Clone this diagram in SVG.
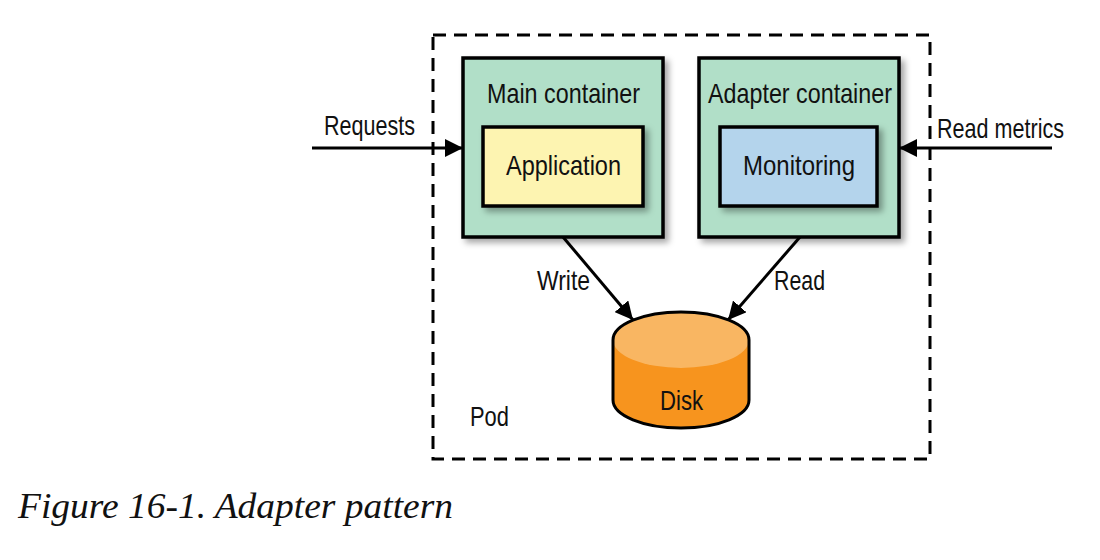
<svg xmlns="http://www.w3.org/2000/svg" width="1100" height="560" viewBox="0 0 1100 560">
  <style>
    .lbl { font-family: "Liberation Sans", Arial, sans-serif; font-size: 28px; fill: #111; }
    .box { stroke: #000; stroke-width: 3.5; }
    .cont { fill: #b1dfc8; }
    .line { stroke: #000; stroke-width: 3; fill: none; }
    .cap { font-family: "Liberation Serif", "Times New Roman", serif; font-style: italic; font-size: 36px; fill: #111; }
  </style>
  <defs>
    <filter id="sh" x="-10%" y="-10%" width="130%" height="130%">
      <feDropShadow dx="4" dy="4" stdDeviation="3" flood-color="#000" flood-opacity="0.35"/>
    </filter>
    <marker id="ah" viewBox="0 0 18 18" refX="18" refY="9" markerWidth="18" markerHeight="18" markerUnits="userSpaceOnUse" orient="auto">
      <path d="M0,0 L18,9 L0,18 Z" fill="#000"/>
    </marker>
  </defs>

  <g id="pod">
    <rect x="433" y="35" width="497" height="424" fill="none" stroke="#000" stroke-width="3" stroke-dasharray="13 8"/>
    <text class="lbl" x="470" y="426" textLength="39" lengthAdjust="spacingAndGlyphs">Pod</text>
  </g>

  <g id="main-container">
    <rect class="box cont" x="463" y="58" width="200" height="179" filter="url(#sh)"/>
    <text class="lbl" x="487" y="103" textLength="153" lengthAdjust="spacingAndGlyphs">Main container</text>
  </g>
  <g id="application">
    <rect class="box" x="483" y="127" width="160" height="79" fill="#fdf4b1" filter="url(#sh)"/>
    <text class="lbl" x="506" y="175" textLength="115" lengthAdjust="spacingAndGlyphs">Application</text>
  </g>

  <g id="adapter-container">
    <rect class="box cont" x="699" y="58" width="200" height="179" filter="url(#sh)"/>
    <text class="lbl" x="708" y="103" textLength="184" lengthAdjust="spacingAndGlyphs">Adapter container</text>
  </g>
  <g id="monitoring">
    <rect class="box" x="720" y="127" width="157" height="79" fill="#b4d4ec" filter="url(#sh)"/>
    <text class="lbl" x="743" y="175" textLength="112" lengthAdjust="spacingAndGlyphs">Monitoring</text>
  </g>

  <g id="disk">
    <path d="M613,340 A68,28 0 0 1 749,340 L749,400 A68,28 0 0 1 613,400 Z" fill="#f7941e"/>
    <ellipse cx="681" cy="340" rx="68" ry="28" fill="#f9b662"/>
    <path d="M613,340 A68,28 0 0 1 749,340 L749,400 A68,28 0 0 1 613,400 Z" fill="none" stroke="#000" stroke-width="3"/>
    <text class="lbl" x="660" y="410" textLength="43" lengthAdjust="spacingAndGlyphs">Disk</text>
  </g>

  <g id="connectors">
    <line class="line" x1="312" y1="148" x2="463" y2="148" marker-end="url(#ah)"/>
    <text class="lbl" x="324" y="135" textLength="91" lengthAdjust="spacingAndGlyphs">Requests</text>
    <line class="line" x1="1052" y1="148" x2="899" y2="148" marker-end="url(#ah)"/>
    <text class="lbl" x="937" y="138" textLength="127" lengthAdjust="spacingAndGlyphs">Read metrics</text>
    <line class="line" x1="563" y1="237" x2="633" y2="320" marker-end="url(#ah)"/>
    <text class="lbl" x="537" y="290" textLength="53" lengthAdjust="spacingAndGlyphs">Write</text>
    <line class="line" x1="800" y1="237" x2="728" y2="320" marker-end="url(#ah)"/>
    <text class="lbl" x="774" y="290" textLength="51" lengthAdjust="spacingAndGlyphs">Read</text>
  </g>

  <text class="cap" x="18" y="518" textLength="435" lengthAdjust="spacingAndGlyphs">Figure 16-1. Adapter pattern</text>
</svg>
